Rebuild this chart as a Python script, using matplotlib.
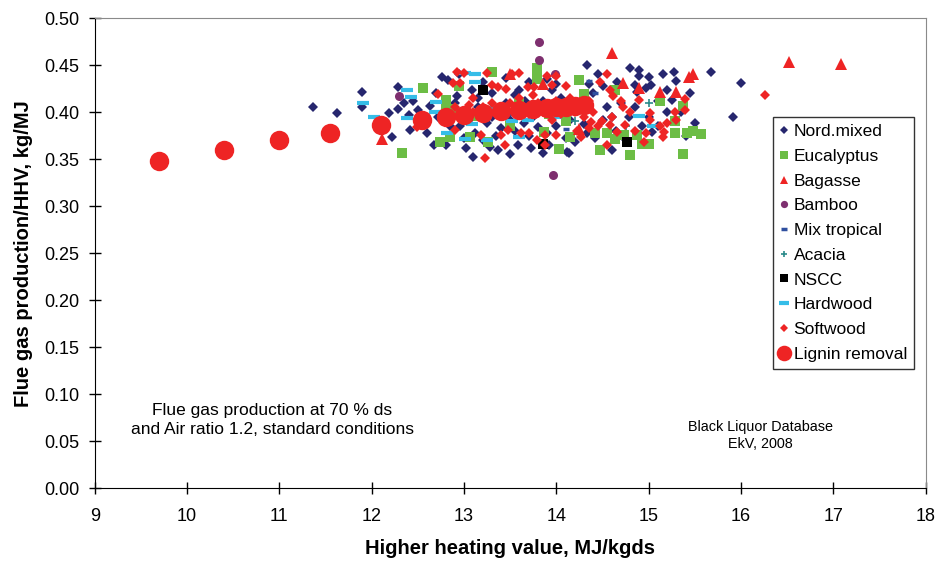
"""Flue gas production per HHV vs higher heating value, Black Liquor Database scatter."""
import matplotlib
matplotlib.use("Agg")
import matplotlib.pyplot as plt
from matplotlib.ticker import FormatStrFormatter

plt.rcParams["font.family"] = ["Liberation Sans", "DejaVu Sans"]

# --- data (x = HHV MJ/kgds, y = kg/MJ) ---
nord_x = [11.36, 11.62, 11.90, 11.90, 12.29, 12.19, 12.29, 12.42, 12.22, 12.40, 12.67, 12.80, 12.63,
          12.76, 12.83, 12.35, 12.45, 12.55, 12.50, 12.60, 12.70, 12.72, 12.85, 12.90, 12.95,
          13.09, 12.92, 13.30, 13.60, 13.66, 13.95, 12.96, 13.12, 13.21, 13.37, 13.58, 13.72, 13.10,
          14.12, 13.00, 13.05, 13.15, 13.25, 13.30, 13.35, 13.40, 13.45, 13.50, 13.55, 13.60, 13.65,
          13.70, 13.75, 13.80, 13.85, 13.90, 13.95, 14.00, 14.05, 14.10, 14.15, 13.20, 13.45, 13.70,
          13.90, 14.00, 13.50, 13.85, 13.28, 13.02, 13.92, 14.20, 13.15, 13.55,
          14.33, 14.80, 14.90, 14.90, 15.00, 15.15, 15.27, 14.85, 14.87, 14.97, 15.03, 15.20, 14.66,
          15.20, 15.25, 15.50, 14.93, 15.04, 14.42, 14.33, 14.14, 14.30, 14.79, 14.25, 14.40, 14.50,
          14.55, 14.60, 14.65, 14.70, 14.75, 14.85, 15.00, 15.10, 15.10, 15.30, 15.35, 15.40, 14.45,
          14.60, 14.35, 14.50, 15.45, 15.68, 16.00, 15.91]
nord_y = [0.405, 0.399, 0.421, 0.405, 0.427, 0.399, 0.403, 0.381, 0.373, 0.397, 0.365, 0.365, 0.406,
          0.437, 0.434, 0.410, 0.412, 0.388, 0.402, 0.378, 0.420, 0.395, 0.385, 0.410, 0.440,
          0.424, 0.417, 0.420, 0.423, 0.412, 0.424, 0.385, 0.378, 0.370, 0.360, 0.365, 0.362, 0.352,
          0.358, 0.372, 0.392, 0.405, 0.388, 0.395, 0.375, 0.383, 0.410, 0.392, 0.380, 0.400, 0.388,
          0.375, 0.395, 0.384, 0.412, 0.378, 0.396, 0.385, 0.415, 0.372, 0.392, 0.432, 0.436, 0.432,
          0.435, 0.430, 0.355, 0.357, 0.363, 0.362, 0.365, 0.368, 0.415, 0.418,
          0.450, 0.447, 0.445, 0.438, 0.437, 0.440, 0.443, 0.429, 0.421, 0.426, 0.429, 0.424, 0.432,
          0.400, 0.413, 0.388, 0.385, 0.379, 0.372, 0.378, 0.357, 0.387, 0.395, 0.410, 0.420, 0.428,
          0.405, 0.395, 0.380, 0.410, 0.370, 0.405, 0.395, 0.412, 0.385, 0.433, 0.400, 0.375, 0.440,
          0.360, 0.430, 0.392, 0.420, 0.443, 0.431, 0.395]

euca_x = [12.33, 12.56, 12.74, 12.85, 12.80, 12.80, 13.30, 13.79, 13.79, 13.79, 13.06, 13.26, 13.87,
          14.03, 14.15, 12.88, 14.25, 14.30, 14.63, 15.12, 15.37, 15.28, 15.28, 14.42, 14.55, 14.64,
          14.80, 14.93, 15.00, 14.47, 15.42, 15.37, 14.87, 14.73, 15.48, 15.57, 13.92, 13.60, 13.15,
          14.10, 13.50, 12.95]
euca_y = [0.357, 0.426, 0.368, 0.373, 0.413, 0.404, 0.443, 0.447, 0.441, 0.435, 0.373, 0.368, 0.379,
          0.361, 0.373, 0.403, 0.434, 0.419, 0.424, 0.412, 0.406, 0.390, 0.378, 0.378, 0.378, 0.371,
          0.354, 0.366, 0.366, 0.360, 0.378, 0.355, 0.376, 0.376, 0.380, 0.377, 0.398, 0.410, 0.396,
          0.390, 0.385, 0.428]

bagasse_x = [12.11, 14.60, 16.52, 17.08, 15.48, 15.44, 14.72, 14.90, 15.12, 15.30, 14.25, 13.50, 13.85]
bagasse_y = [0.371, 0.463, 0.453, 0.451, 0.441, 0.437, 0.431, 0.426, 0.421, 0.421, 0.382, 0.441, 0.430]

bamboo_x = [12.30, 13.81, 13.81, 13.98, 13.99, 13.96]
bamboo_y = [0.417, 0.475, 0.455, 0.402, 0.440, 0.333]

mixtrop_x = [14.35, 14.42, 13.95, 14.10, 13.50]
mixtrop_y = [0.433, 0.420, 0.406, 0.382, 0.398]

acacia_x = [14.20, 14.75, 13.70, 15.00]
acacia_y = [0.390, 0.385, 0.400, 0.410]

nscc_x = [13.20, 13.86, 14.76]
nscc_y = [0.423, 0.366, 0.368]

hard_x = [11.91, 12.02, 12.38, 12.43, 12.38, 12.70, 12.69, 12.82, 13.01, 13.12, 13.12, 13.09, 13.01,
          13.52, 13.69, 13.60, 13.30, 14.90, 15.05, 14.00, 13.25, 12.55]
hard_y = [0.410, 0.395, 0.424, 0.416, 0.394, 0.411, 0.400, 0.378, 0.442, 0.440, 0.432, 0.387, 0.371,
          0.390, 0.392, 0.374, 0.404, 0.396, 0.385, 0.395, 0.370, 0.395]

soft_x = [12.92, 13.00, 13.25, 13.52, 13.59, 13.90, 14.00, 12.72, 12.88, 12.96, 13.30, 13.37, 13.69,
          13.76, 13.95, 14.10, 13.45,
          12.90, 13.00, 13.05, 13.10, 13.20, 13.30, 13.35, 13.40, 13.50, 13.55, 13.65, 13.70, 13.80,
          13.85, 13.95, 14.00, 14.05, 14.10, 14.15, 14.20, 14.25, 14.30, 13.60, 13.10, 12.85, 13.75,
          14.35, 14.40, 13.95,
          12.49, 12.90, 13.18, 13.40, 13.48, 13.62, 13.70, 13.88, 14.00, 13.23, 13.44, 13.79, 13.88,
          14.22, 14.27, 14.37, 14.49, 14.45, 14.58, 14.66, 14.74, 14.35,
          14.55, 14.47, 14.58, 14.61, 14.70, 14.72, 14.90, 15.01, 15.01, 14.97, 14.95, 15.12, 15.17,
          15.15, 15.20, 15.28, 15.39, 15.39, 14.55, 14.60, 14.80, 14.85, 15.30, 16.26]
soft_y = [0.443, 0.442, 0.442, 0.440, 0.442, 0.438, 0.438, 0.419, 0.431, 0.431, 0.429, 0.427, 0.427,
          0.427, 0.429, 0.428, 0.425,
          0.405, 0.398, 0.408, 0.400, 0.405, 0.410, 0.398, 0.405, 0.410, 0.400, 0.405, 0.398, 0.410,
          0.400, 0.405, 0.412, 0.398, 0.405, 0.415, 0.400, 0.408, 0.395, 0.415, 0.415, 0.396, 0.418,
          0.412, 0.400, 0.392,
          0.384, 0.381, 0.376, 0.376, 0.381, 0.378, 0.378, 0.376, 0.376, 0.351, 0.365, 0.370, 0.365,
          0.380, 0.373, 0.389, 0.391, 0.385, 0.386, 0.379, 0.386, 0.383,
          0.441, 0.432, 0.424, 0.417, 0.412, 0.405, 0.413, 0.399, 0.392, 0.378, 0.368, 0.385, 0.379,
          0.373, 0.388, 0.400, 0.414, 0.402, 0.365, 0.395, 0.400, 0.380, 0.392, 0.418]

lignin_x = [9.7, 10.4, 11.0, 11.55, 12.1, 12.55, 12.8, 13.0, 13.2, 13.4, 13.6, 13.75, 13.9, 14.0,
            14.1, 14.2, 14.3]
lignin_y = [0.348, 0.360, 0.370, 0.378, 0.386, 0.392, 0.395, 0.397, 0.399, 0.401, 0.402, 0.403,
            0.404, 0.405, 0.405, 0.406, 0.407]

RED = "#ee2424"

fig = plt.figure(figsize=(9.39, 5.65), dpi=100)
ax = fig.add_axes([0.1009, 0.1358, 0.8849, 0.8323])

ax.plot(nord_x, nord_y, "D", color="#26266e", ms=5.4, mew=0, label="Nord.mixed")
ax.plot(euca_x, euca_y, "s", color="#6cbd45", ms=6.8, mew=0, label="Eucalyptus")
ax.plot(bagasse_x, bagasse_y, "^", color=RED, ms=8, mew=0, label="Bagasse")
ax.plot(bamboo_x, bamboo_y, "o", color="#7e2f6f", ms=6.5, mew=0, label="Bamboo")
ax.plot(mixtrop_x, mixtrop_y, "_", color="#2f4f9f", ms=5, mew=2.5, label="Mix tropical")
ax.plot(acacia_x, acacia_y, "+", color="#2a8a8a", ms=6, mew=1.2, label="Acacia")
ax.plot(nscc_x, nscc_y, "s", color="black", ms=6.5, mew=0, label="NSCC")
ax.plot(hard_x, hard_y, "_", color="#35bde8", ms=9, mew=3, label="Hardwood")
ax.plot(soft_x, soft_y, "D", color=RED, ms=5.4, mew=0, label="Softwood")
ax.plot(lignin_x, lignin_y, "o", color=RED, ms=14, mew=0, label="Lignin removal")

ax.set_xlim(9, 18)
ax.set_ylim(0, 0.5)
ax.set_xticks(range(9, 19))
ax.set_yticks([i * 0.05 for i in range(11)])
ax.yaxis.set_major_formatter(FormatStrFormatter("%.2f"))
ax.tick_params(direction="inout", length=8, width=1, labelsize=13)
ax.tick_params(axis="x", pad=10)
ax.tick_params(axis="y", pad=7)

for side in ("left", "bottom"):
    ax.spines[side].set_color("black")
for side in ("top", "right"):
    ax.spines[side].set_color("#8a8a8a")

ax.set_xlabel("Higher heating value, MJ/kgds", fontsize=14.5, fontweight="bold", labelpad=10)
ax.set_ylabel("Flue gas production/HHV, kg/MJ", fontsize=14.5, fontweight="bold", labelpad=8)

ax.text(10.92, 0.0725, "Flue gas production at 70 % ds\nand Air ratio 1.2, standard conditions",
        ha="center", va="center", fontsize=12.5, linespacing=1.3)
ax.text(16.21, 0.0565, "Black Liquor Database\nEkV, 2008", ha="center", va="center",
        fontsize=10.4, linespacing=1.25)

leg = ax.legend(loc="upper left", bbox_to_anchor=(0.816, 0.789), numpoints=1, fontsize=12.5,
                frameon=True, fancybox=False, edgecolor="black", labelspacing=0.55,
                handlelength=0.5, handletextpad=0.3, borderpad=0.4, borderaxespad=0,
                markerscale=0.8)
leg.get_frame().set_linewidth(1.0)

fig.savefig("out.png", dpi=100)
